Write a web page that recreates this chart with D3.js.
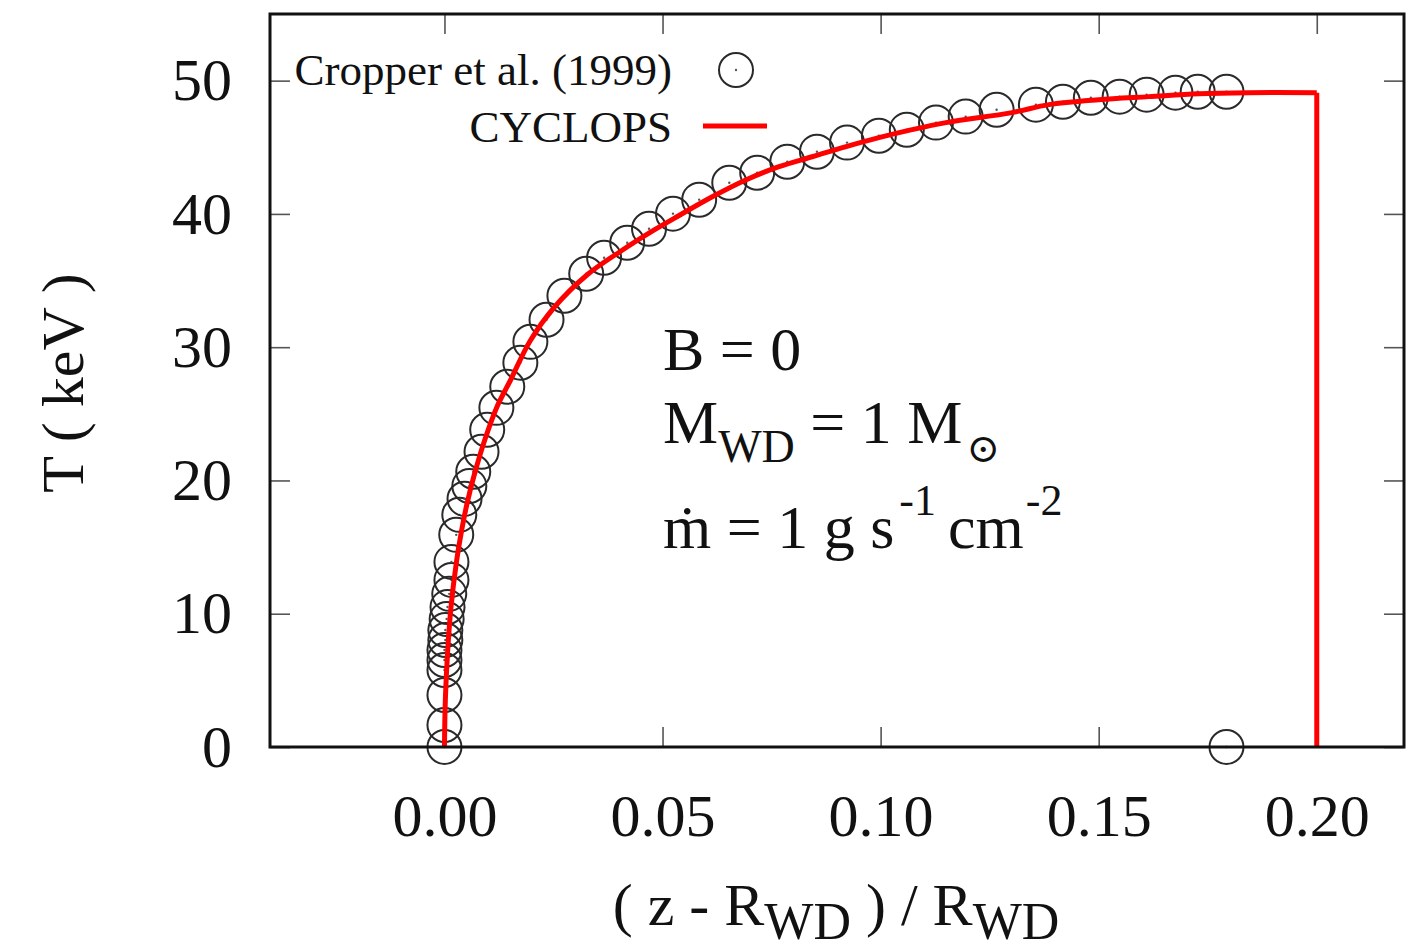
<!DOCTYPE html>
<html lang="en">
<head>
<meta charset="UTF-8">
<title>Temperature profile, B = 0</title>
<script src="https://d3js.org/d3.v7.min.js"></script>
<style>
  body { margin: 0; background: #fff; }
  svg text { font-family: "Liberation Serif", "DejaVu Serif", serif; fill: #111; }
</style>
</head>
<body>
<svg id="chart" width="1409" height="951"></svg>
<script>
// Cropper et al. (1999) points, (z - R_WD)/R_WD and T in keV
var cropperX = [0, 0, 0, 0, 0, 0, 0.0002, 0.0002, 0.0005, 0.0007, 0.0011, 0.0016,
  0.0016, 0.0027, 0.0034, 0.0046, 0.0057, 0.0066, 0.0085, 0.0098, 0.0119, 0.0144,
  0.0174, 0.0197, 0.0234, 0.0275, 0.0325, 0.0366, 0.0419, 0.0469, 0.0524, 0.0584,
  0.0653, 0.0717, 0.0786, 0.0854, 0.0923, 0.0996, 0.1060, 0.1127, 0.1195, 0.1266,
  0.1356, 0.1418, 0.1482, 0.1548, 0.1610, 0.1676, 0.1727, 0.1793, 0.1793];
var cropperT = [0, 1.65, 3.9, 5.78, 6.53, 7.28, 8.03, 8.78, 9.61, 10.51, 11.49, 12.54,
  13.89, 15.92, 17.42, 18.62, 19.59, 20.65, 22.15, 23.8, 25.45, 27.03,
  28.83, 30.4, 32.06, 33.86, 35.51, 36.71, 37.84, 38.89, 40.02, 41.07,
  42.34, 43.09, 43.92, 44.67, 45.35, 45.87, 46.32, 46.85, 47.30, 47.82,
  48.2, 48.42, 48.72, 48.8, 48.95, 49.1, 49.17, 49.17, 0];

// CYCLOPS curve
var cyclopsX = [0, 0.0002, 0.0007, 0.0015, 0.0028, 0.0038, 0.0052, 0.0069, 0.0092,
  0.0120, 0.0151, 0.0197, 0.0252, 0.0326, 0.0404, 0.0481, 0.0539,
  0.0614, 0.0692, 0.0767, 0.0843, 0.0921, 0.0996, 0.1072, 0.1150, 0.1301, 0.1386,
  0.1500, 0.1615, 0.1729, 0.1844, 0.2000];
var cyclopsT = [0, 3.5, 7, 10.5, 14, 16, 18.3, 20.5, 23,
  25.5, 27.5, 30.5, 33, 35.4, 37.2, 38.8, 39.9,
  41.29, 42.57, 43.54, 44.29, 45.05, 45.72, 46.32, 46.85, 47.6, 48.2,
  48.57, 48.8, 49.02, 49.1, 49.1];
// shock front: vertical drop at the end
var shockX = [0.2, 0.2];
var shockT = [49.1, 0];

var xTicks = [0, 0.05, 0.10, 0.15, 0.20];
var yTicks = [0, 10, 20, 30, 40, 50];
var legendLabels = ["Cropper et al. (1999)", "CYCLOPS"];

var svg = d3.select("#chart");
var margin = {top: 14, right: 5, bottom: 204, left: 270};
var W = 1409 - margin.left - margin.right;
var H = 951 - margin.top - margin.bottom;

var x = d3.scaleLinear().domain([-0.04, 0.22]).range([0, W]);
var y = d3.scaleLinear().domain([0, 55]).range([H, 0]);

var g = svg.append("g").attr("transform", "translate(" + margin.left + "," + margin.top + ")");

function styleAxis(sel) {
  sel.select(".domain").remove();
  sel.selectAll(".tick line").attr("stroke", "#555").attr("stroke-width", 1.6);
  sel.selectAll("text").style("font-size", "60px").attr("fill", "#111");
}

g.append("g").attr("transform", "translate(0," + H + ")")
  .call(d3.axisBottom(x).tickValues(xTicks).tickFormat(d3.format(".2f")).tickSize(-20).tickPadding(46))
  .call(styleAxis);
g.append("g")
  .call(d3.axisTop(x).tickValues(xTicks).tickFormat("").tickSize(-20))
  .call(styleAxis);
g.append("g")
  .call(d3.axisLeft(y).tickValues(yTicks).tickFormat(d3.format("d")).tickSize(-20).tickPadding(38))
  .call(styleAxis);
g.append("g").attr("transform", "translate(" + W + ",0)")
  .call(d3.axisRight(y).tickValues(yTicks).tickFormat("").tickSize(-20))
  .call(styleAxis);

// circles
var pts = cropperX.map(function(d, i) { return {x: d, t: cropperT[i]}; });
var marks = g.append("g").selectAll("g").data(pts).enter().append("g")
  .attr("transform", function(d) { return "translate(" + x(d.x) + "," + y(d.t) + ")"; });
marks.append("circle").attr("r", 17).attr("fill", "none").attr("stroke", "#2a2a2a").attr("stroke-width", 2);
marks.append("circle").attr("r", 1.2).attr("fill", "#555");

// CYCLOPS line
var line = d3.line().x(function(d) { return x(d[0]); }).y(function(d) { return y(d[1]); });
var curve = cyclopsX.map(function(d, i) { return [d, cyclopsT[i]]; });
g.append("path").datum(curve)
  .attr("d", line.curve(d3.curveCatmullRom.alpha(0.5)))
  .attr("fill", "none").attr("stroke", "#ff0000").attr("stroke-width", 5);
g.append("path").datum(shockX.map(function(d, i) { return [d, shockT[i]]; }))
  .attr("d", d3.line().x(function(d) { return x(d[0]); }).y(function(d) { return y(d[1]); }))
  .attr("fill", "none").attr("stroke", "#ff0000").attr("stroke-width", 5);

// frame
g.append("rect").attr("width", W).attr("height", H)
  .attr("fill", "none").attr("stroke", "#111").attr("stroke-width", 3);

// legend
var leg = svg.append("g");
leg.selectAll("text").data(legendLabels).enter().append("text")
  .attr("x", 672).attr("y", function(d, i) { return 85 + i * 57; })
  .attr("text-anchor", "end").style("font-size", "45px").text(function(d) { return d; });
leg.append("circle").attr("cx", 736).attr("cy", 70).attr("r", 17)
  .attr("fill", "none").attr("stroke", "#2a2a2a").attr("stroke-width", 2);
leg.append("circle").attr("cx", 736).attr("cy", 70).attr("r", 1.2).attr("fill", "#555");
leg.append("line").attr("x1", 703).attr("x2", 767).attr("y1", 126).attr("y2", 126)
  .attr("stroke", "#ff0000").attr("stroke-width", 5);

// axis titles
var xl = svg.append("text").attr("x", 836).attr("y", 925).attr("text-anchor", "middle").style("font-size", "60px");
xl.append("tspan").text("( z - R");
xl.append("tspan").attr("dy", 14).style("font-size", "52px").text("WD");
xl.append("tspan").attr("dy", -14).text(" ) / R");
xl.append("tspan").attr("dy", 14).style("font-size", "52px").text("WD");

svg.append("text").attr("transform", "translate(83,383) rotate(-90)")
  .attr("text-anchor", "middle").style("font-size", "60px").text("T ( keV )");

// annotation
var ann = svg.append("g").style("font-size", "62px");
ann.append("text").attr("x", 663).attr("y", 370).text("B = 0");
var m = ann.append("text").attr("x", 663).attr("y", 443);
m.append("tspan").text("M");
m.append("tspan").attr("dy", 19).style("font-size", "46px").text("WD");
m.append("tspan").attr("dy", -19).text(" = 1 M");
m.append("tspan").attr("dx", 4).attr("dy", 19).style("font-size", "40px")
  .style("font-family", "'DejaVu Serif', serif").text("\u2299");
var md = ann.append("text").attr("x", 663).attr("y", 548);
md.append("tspan").text("m\u0307 = 1 g s");
md.append("tspan").attr("dx", 5).attr("dy", -33).style("font-size", "44px").text("-1");
md.append("tspan").attr("dx", 12).attr("dy", 33).text("cm");
md.append("tspan").attr("dx", 2).attr("dy", -33).style("font-size", "44px").text("-2");
</script>
</body>
</html>
